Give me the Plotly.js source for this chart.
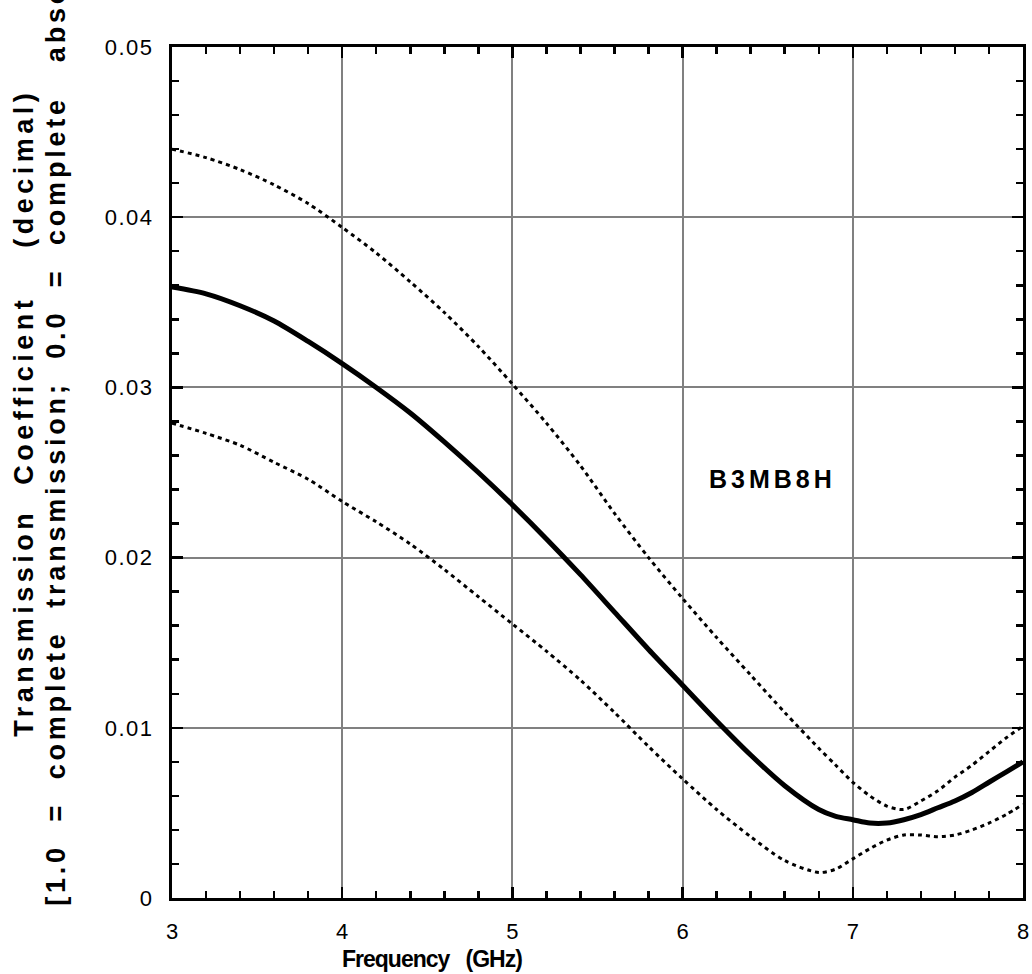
<!DOCTYPE html>
<html>
<head>
<meta charset="utf-8">
<script src="https://cdn.plot.ly/plotly-3.0.1.min.js"></script>
<style>
  html, body { margin: 0; padding: 0; background: #fff; }
  #chart { width: 1032px; height: 974px; }
  .ytick text { letter-spacing: 1.5px; }
  text[data-unformatted^="Transmission"] { letter-spacing: 4.5px; }
  text[data-unformatted^="[1.0"] { letter-spacing: 3.8px; }
  text[data-unformatted="B3MB8H"] { letter-spacing: 4px; }
  text[data-unformatted^="Frequency"] { letter-spacing: -1px; }
</style>
</head>
<body>
<div id="chart"></div>
<script>
const frequency = [3.0,3.2,3.4,3.6,3.8,4.0,4.2,4.4,4.6,4.8,5.0,5.2,5.4,5.6,5.8,6.0,6.2,6.4,6.6,6.8,6.9,7.0,7.1,7.2,7.3,7.4,7.5,7.6,7.7,7.8,7.9,8.0];
const upperBound = [0.0440,0.0435,0.0428,0.0419,0.0408,0.0394,0.0379,0.0362,0.0344,0.0324,0.0302,0.0279,0.0254,0.0226,0.0200,0.0176,0.0153,0.0131,0.0109,0.0088,0.0078,0.0068,0.0060,0.0054,0.0052,0.0057,0.0063,0.0071,0.0078,0.0086,0.0094,0.0101];
const transmission = [0.0359,0.0355,0.0348,0.0339,0.0327,0.0314,0.0300,0.0285,0.0268,0.0250,0.0231,0.0211,0.0190,0.0168,0.0146,0.0125,0.0104,0.0084,0.0066,0.0052,0.0048,0.0046,0.0044,0.0044,0.0046,0.0049,0.0053,0.0057,0.0062,0.0068,0.0074,0.0080];
const lowerBound = [0.0279,0.0273,0.0266,0.0256,0.0246,0.0233,0.0221,0.0208,0.0193,0.0177,0.0161,0.0145,0.0128,0.0109,0.0089,0.0070,0.0052,0.0036,0.0022,0.0015,0.0017,0.0023,0.0029,0.0034,0.0037,0.0037,0.0036,0.0037,0.0040,0.0044,0.0049,0.0055];

const xTickVals = [3,4,5,6,7,8];
const xTickText = ['3','4','5','6','7','8'];
const yTickVals = [0,0.01,0.02,0.03,0.04,0.05];
const yTickText = ['0','0.01','0.02','0.03','0.04','0.05'];

const sampleLabel = 'B3MB8H';
const xTitle = 'Frequency\u00a0\u00a0\u00a0(GHz)';
const yTitle1 = 'Transmission\u00a0\u00a0Coefficient\u00a0\u00a0\u00a0\u00a0(decimal)';
const yTitle2 = '[1.0\u00a0\u00a0=\u00a0\u00a0complete\u00a0\u00a0transmission;\u00a0\u00a00.0\u00a0\u00a0=\u00a0\u00a0complete\u00a0\u00a0\u00a0absorption]';

const traces = [
  {x: frequency, y: upperBound, mode: 'lines', line: {color: '#000', width: 3, dash: '4px,4px', shape: 'spline', smoothing: 0.8}, hoverinfo: 'skip'},
  {x: frequency, y: lowerBound, mode: 'lines', line: {color: '#000', width: 3, dash: '4px,4px', shape: 'spline', smoothing: 0.8}, hoverinfo: 'skip'},
  {x: frequency, y: transmission, mode: 'lines', line: {color: '#000', width: 5, shape: 'spline', smoothing: 0.8}, hoverinfo: 'skip'}
];

const axisCommon = {
  showline: true, linecolor: '#000', linewidth: 3, mirror: 'allticks',
  ticks: 'inside', ticklen: 11, tickwidth: 2.5, tickcolor: '#000',
  showgrid: true, gridcolor: '#808080', gridwidth: 2,
  zeroline: false, fixedrange: true, tickmode: 'array'
};

const layout = {
  width: 1032, height: 974,
  margin: {l: 172, r: 9, t: 47, b: 76},
  paper_bgcolor: '#fff', plot_bgcolor: '#fff',
  showlegend: false,
  xaxis: Object.assign({}, axisCommon, {
    range: [3, 8], tickvals: xTickVals, ticktext: xTickText,
    tickfont: {family: '"Liberation Sans", Arial, sans-serif', size: 22, color: '#000'},
    ticklabelstandoff: 12,
    minor: {ticks: 'inside', dtick: 0.2, ticklen: 7, tickwidth: 2.5, tickcolor: '#000', showgrid: false}
  }),
  yaxis: Object.assign({}, axisCommon, {
    range: [0, 0.05], tickvals: yTickVals, ticktext: yTickText,
    tickfont: {family: '"Liberation Sans", Arial, sans-serif', size: 22, color: '#000'},
    ticklabelstandoff: 11,
    minor: {ticks: 'inside', dtick: 0.002, ticklen: 7, tickwidth: 2.5, tickcolor: '#000', showgrid: false}
  }),
  annotations: [
    {text: sampleLabel, xref: 'x', yref: 'y', x: 6.53, y: 0.0246, showarrow: false,
     xanchor: 'center', yanchor: 'middle',
     font: {family: '"Liberation Sans", Arial, sans-serif', size: 25, color: '#000', weight: 'bold'}},
    {text: xTitle, xref: 'paper', yref: 'paper', x: (432 - 172) / 851, y: (898.5 - 960) / 851.5, showarrow: false,
     xanchor: 'center', yanchor: 'middle',
     font: {family: '"Liberation Sans", Arial, sans-serif', size: 23, color: '#000', weight: 'bold'}},
    {text: yTitle1, xref: 'paper', yref: 'paper', x: (24 - 172) / 851, y: (898.5 - 413) / 851.5, showarrow: false,
     textangle: -90, xanchor: 'center', yanchor: 'middle',
     font: {family: '"Liberation Sans", Arial, sans-serif', size: 27, color: '#000', weight: 'bold'}},
    {text: yTitle2, xref: 'paper', yref: 'paper', x: (56 - 172) / 851, y: (898.5 - 389) / 851.5, showarrow: false,
     textangle: -90, xanchor: 'center', yanchor: 'middle',
     font: {family: '"Liberation Sans", Arial, sans-serif', size: 27, color: '#000', weight: 'bold'}}
  ]
};

Plotly.newPlot('chart', traces, layout, {displayModeBar: false, staticPlot: true});
</script>
</body>
</html>
